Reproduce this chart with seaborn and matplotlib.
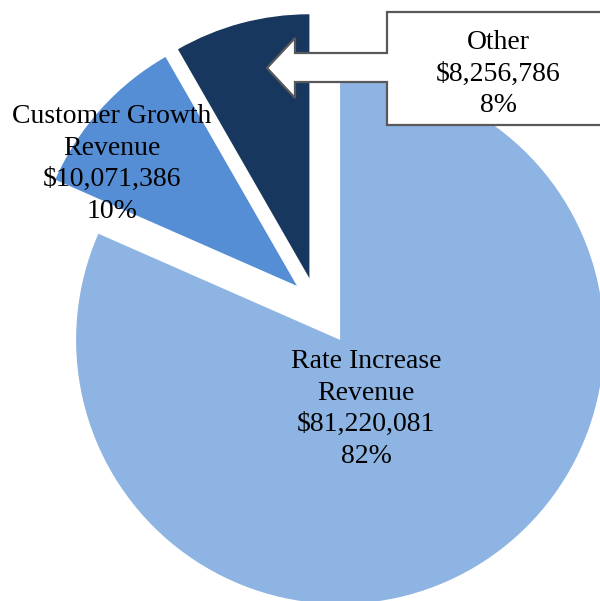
import matplotlib
matplotlib.use("Agg")
import matplotlib.pyplot as plt
import seaborn as sns
from matplotlib.patches import Polygon

sns.set_style("white")
plt.rcParams['font.family'] = ['Liberation Serif', 'DejaVu Serif']

# ---- data ----
categories = ["Rate Increase\nRevenue", "Customer Growth\nRevenue", "Other"]
values = [81220081, 10071386, 8256786]
colors = ["#8DB4E2", "#558ED5", "#17375E"]
explode = [0.167, 0.097, 0.097]

# pixel layout helpers (reference is 600x601 px)
CX, CY, R = 316.0, 303.0, 264.0
def P(x, y):
    return ((x - CX) / R, (CY - y) / R)

fig = plt.figure(figsize=(6.0, 6.01), dpi=100)
ax = fig.add_axes([0, 0, 1, 1])

ax.pie(values, colors=colors, explode=explode, startangle=90,
       counterclock=False, radius=1.0, center=(0, 0),
       wedgeprops=dict(linewidth=0))

total = sum(values)
labels = [f"{c}\n${v:,.0f}\n{round(100 * v / total):.0f}%" for c, v in zip(categories, values)]

LS = 1.34
# Rate increase label
ax.text(*P(366, 409), labels[0], ha="center", va="center", fontsize=20,
        linespacing=LS, color="black", zorder=5)
# Customer growth label
ax.text(*P(112, 164), labels[1], ha="center", va="center", fontsize=20,
        linespacing=LS, color="black", zorder=5)

# Callout for Other
pts = [(387, 12), (610, 12), (610, 125), (387, 125), (387, 82), (295, 82),
       (295, 98), (267, 68), (295, 38), (295, 53), (387, 53)]
poly = Polygon([P(x, y) for x, y in pts], closed=True, facecolor="white",
               edgecolor="#595959", linewidth=1.6, zorder=4, joinstyle="miter")
ax.add_patch(poly)
ax.text(*P(498, 74), labels[2], ha="center", va="center", fontsize=20,
        linespacing=LS, color="black", zorder=5)

x0, y1 = P(0, 0)
x1, y0 = P(600, 601)
ax.set_xlim(x0, x1)
ax.set_ylim(y0, y1)
ax.set_aspect("equal")
ax.axis("off")

fig.savefig("out.png", dpi=100)
